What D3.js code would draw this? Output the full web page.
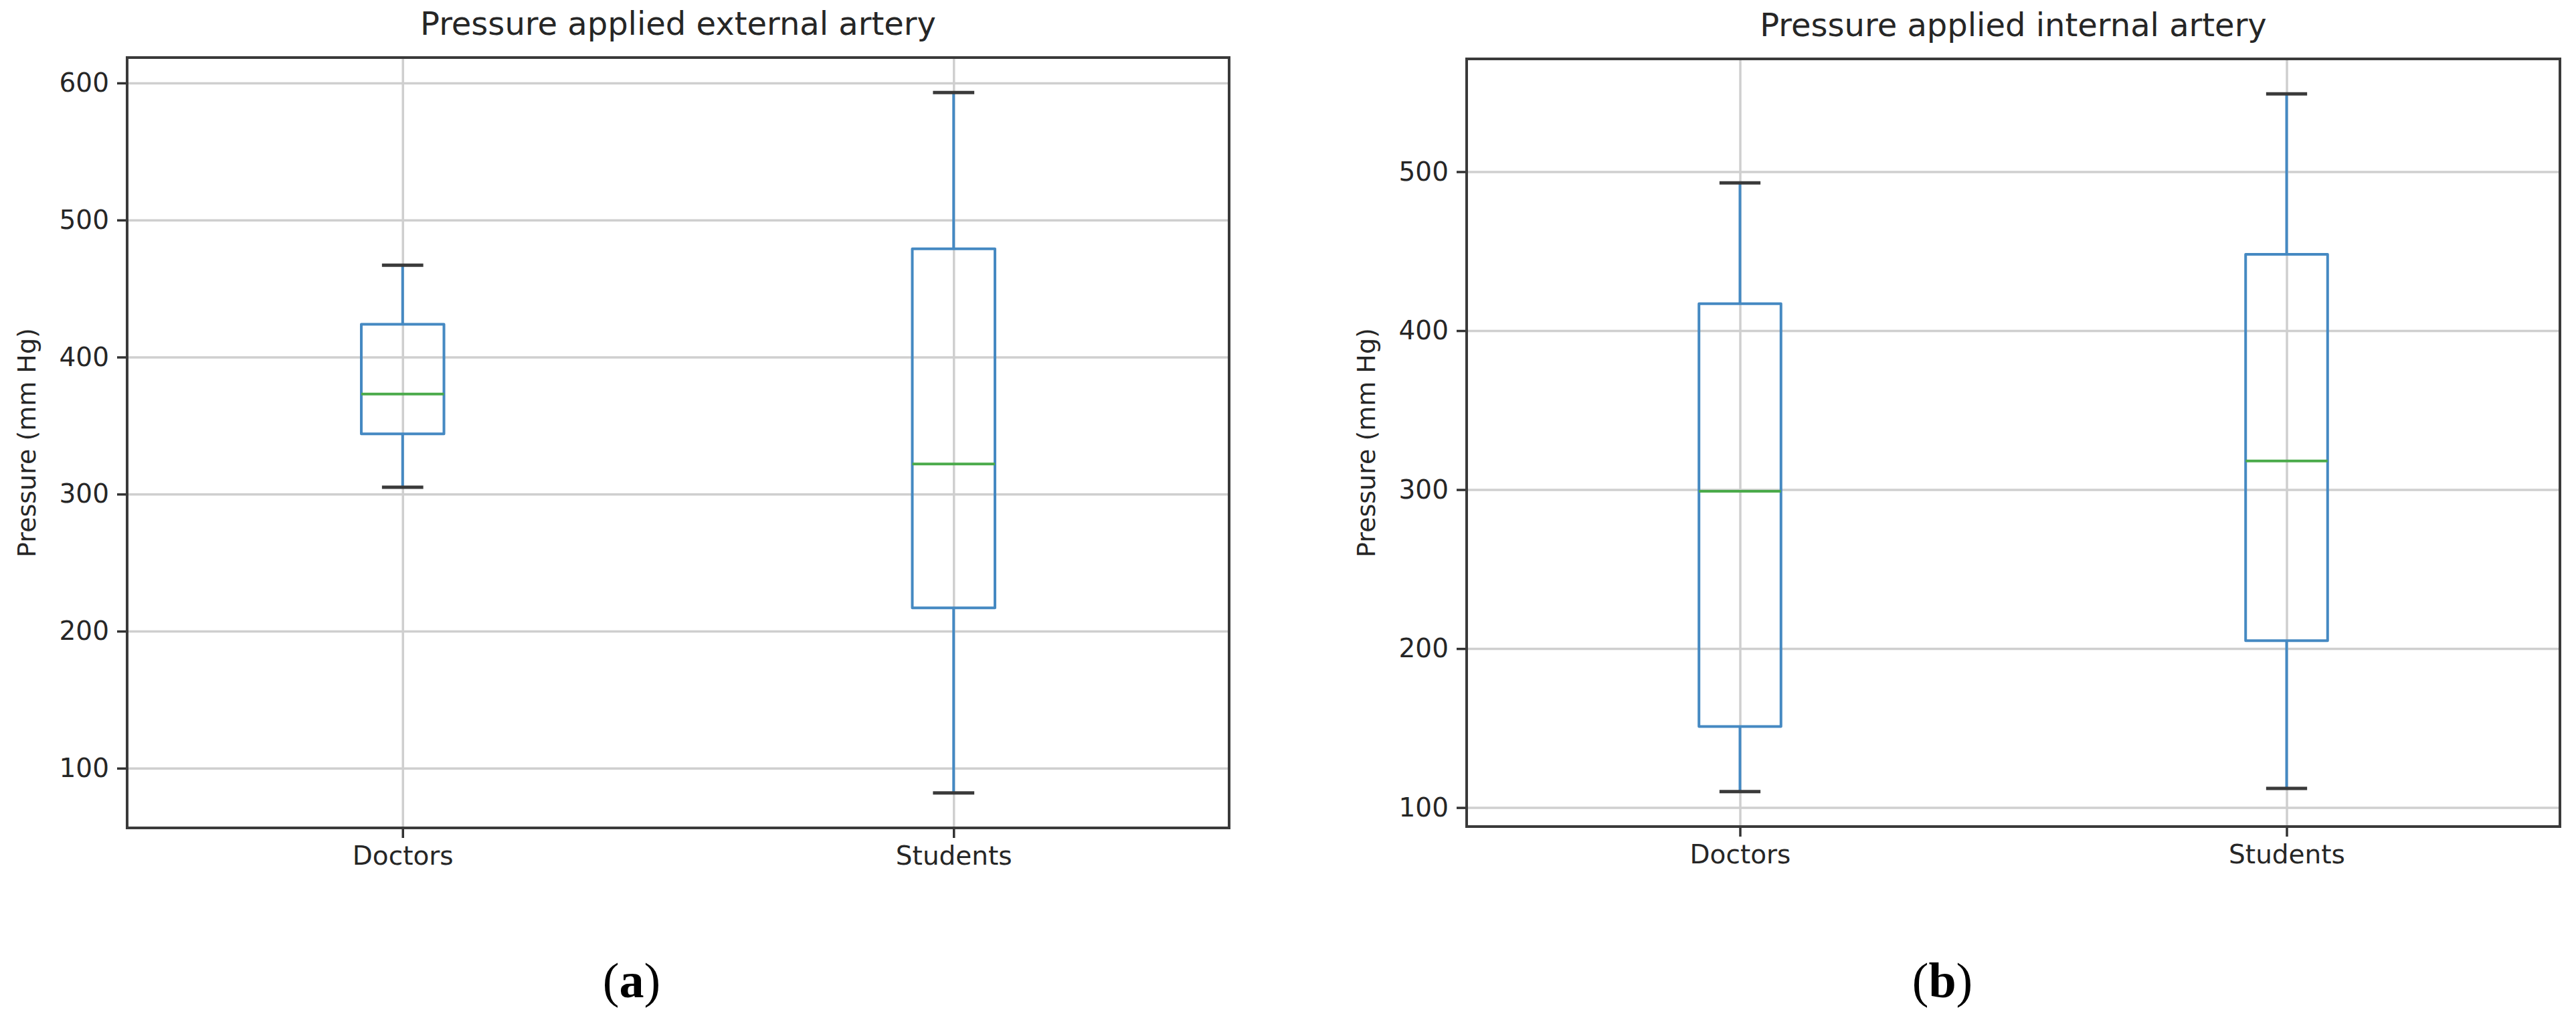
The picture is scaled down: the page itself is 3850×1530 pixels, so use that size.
<!DOCTYPE html>
<html>
<head>
<meta charset="utf-8">
<script src="https://cdn.jsdelivr.net/npm/d3@7"></script>
<style>
  html, body { margin: 0; padding: 0; background: #ffffff; }
  svg { display: block; }
</style>
</head>
<body>
<svg id="chart" width="3850" height="1530"></svg>
<script>
// ---- data ----
const categories = ["Doctors", "Students"];
// box statistics order: lower whisker, Q1, median, Q3, upper whisker
const externalDoctors  = [305, 344, 373, 424, 467];
const externalStudents = [82, 217, 322, 479, 593];
const internalDoctors  = [110, 151, 299, 417, 493];
const internalStudents = [112, 205, 318, 448, 549];
const externalTicks = [100, 200, 300, 400, 500, 600];
const internalTicks = [100, 200, 300, 400, 500];
const titles = ["Pressure applied external artery", "Pressure applied internal artery"];
const panelLabels = ["a", "b"];
const yLabel = "Pressure (mm Hg)";

// ---- layout ----
const panels = [
  { title: titles[0], series: [externalDoctors, externalStudents], ticks: externalTicks,
    left: 190, right: 1837, top: 86, bottom: 1237, tag: panelLabels[0], tagX: 944 },
  { title: titles[1], series: [internalDoctors, internalStudents], ticks: internalTicks,
    left: 2192, right: 3826, top: 88, bottom: 1235, tag: panelLabels[1], tagX: 2903 }
];

const svg = d3.select("#chart");
const FONT = "'DejaVu Sans', sans-serif";
const TEXT = "#262626";
const BLUE = "#4589c2";
const GREEN = "#4aaa4a";
const CAP = "#3a3a3a";
const GRID = "#cfcfcf";

panels.forEach(p => {
  const g = svg.append("g");
  const W = p.right - p.left;
  const all = p.series.flat();
  const lo = d3.min(all), hi = d3.max(all), pad = (hi - lo) * 0.05;

  const x = d3.scalePoint().domain(categories).range([p.left, p.right]).padding(0.5);
  const y = d3.scaleLinear().domain([lo - pad, hi + pad]).range([p.bottom, p.top]);
  const boxW = x.step() * 0.15;
  const capW = x.step() * 0.075;

  // grid lines
  g.append("g").attr("transform", `translate(${p.left},0)`)
    .call(d3.axisLeft(y).tickValues(p.ticks).tickSize(-W).tickFormat(""))
    .call(a => a.select(".domain").remove())
    .call(a => a.selectAll("line").attr("stroke", GRID).attr("stroke-width", 3.5));
  g.append("g").attr("transform", `translate(0,${p.top})`)
    .call(d3.axisBottom(x).tickSize(p.bottom - p.top).tickFormat(""))
    .call(a => a.select(".domain").remove())
    .call(a => a.selectAll("line").attr("stroke", GRID).attr("stroke-width", 3.5));

  // y axis ticks and labels
  g.append("g").attr("transform", `translate(${p.left},0)`)
    .call(d3.axisLeft(y).tickValues(p.ticks).tickSize(15).tickPadding(12).tickFormat(d3.format("d")))
    .call(a => a.select(".domain").remove())
    .call(a => a.selectAll("line").attr("stroke", "#333").attr("stroke-width", 3.5))
    .call(a => a.selectAll("text").attr("fill", TEXT).style("font-family", FONT).style("font-size", "39px"));

  // x axis ticks and labels
  g.append("g").attr("transform", `translate(0,${p.bottom})`)
    .call(d3.axisBottom(x).tickSize(15).tickPadding(12))
    .call(a => a.select(".domain").remove())
    .call(a => a.selectAll("line").attr("stroke", "#333").attr("stroke-width", 3.5))
    .call(a => a.selectAll("text").attr("fill", TEXT).style("font-family", FONT).style("font-size", "39px"));

  // boxes
  categories.forEach((c, i) => {
    const s = p.series[i];
    const cx = x(c);
    const bg = g.append("g");
    // whiskers
    bg.append("line").attr("x1", cx).attr("x2", cx).attr("y1", y(s[0])).attr("y2", y(s[1]))
      .attr("stroke", BLUE).attr("stroke-width", 4);
    bg.append("line").attr("x1", cx).attr("x2", cx).attr("y1", y(s[3])).attr("y2", y(s[4]))
      .attr("stroke", BLUE).attr("stroke-width", 4);
    // caps
    [s[0], s[4]].forEach(v => {
      bg.append("line").attr("x1", cx - capW / 2).attr("x2", cx + capW / 2)
        .attr("y1", y(v)).attr("y2", y(v)).attr("stroke", CAP).attr("stroke-width", 5);
    });
    // box
    bg.append("rect").attr("x", cx - boxW / 2).attr("width", boxW)
      .attr("y", y(s[3])).attr("height", y(s[1]) - y(s[3]))
      .attr("fill", "none").attr("stroke", BLUE).attr("stroke-width", 4).attr("stroke-linejoin", "round");
    // median
    bg.append("line").attr("x1", cx - boxW / 2).attr("x2", cx + boxW / 2)
      .attr("y1", y(s[2])).attr("y2", y(s[2])).attr("stroke", GREEN).attr("stroke-width", 4);
  });

  // frame
  g.append("rect").attr("x", p.left).attr("y", p.top).attr("width", W).attr("height", p.bottom - p.top)
    .attr("fill", "none").attr("stroke", "#3a3a3a").attr("stroke-width", 4);

  // title
  g.append("text").attr("x", (p.left + p.right) / 2).attr("y", p.top - 34)
    .attr("text-anchor", "middle").attr("fill", TEXT)
    .style("font-family", FONT).style("font-size", "48px").text(p.title);

  // y label
  g.append("text")
    .attr("transform", `translate(${p.left - 137},${(p.top + p.bottom) / 2}) rotate(-90)`)
    .attr("text-anchor", "middle").attr("fill", TEXT)
    .style("font-family", FONT).style("font-size", "38px").text(yLabel);

  // panel tag
  const t = g.append("text").attr("x", p.tagX).attr("y", 1490).attr("text-anchor", "middle")
    .attr("fill", "#000").style("font-family", "'Liberation Serif', 'Times New Roman', serif").style("font-size", "74px");
  t.append("tspan").text("(");
  t.append("tspan").style("font-weight", "bold").text(p.tag);
  t.append("tspan").text(")");
});
</script>
</body>
</html>
